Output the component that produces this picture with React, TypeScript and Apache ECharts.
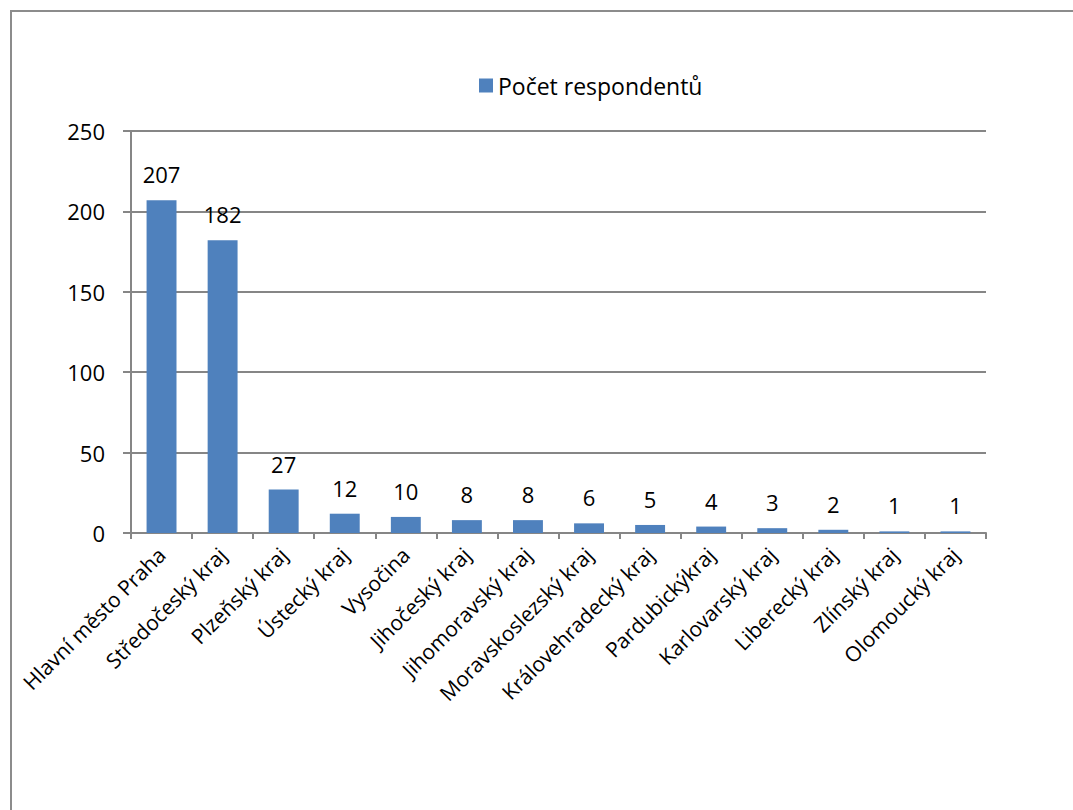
import React, { useEffect, useRef } from "react";
import * as echarts from "echarts";

const categories = [
  "Hlavní město Praha",
  "Středočeský kraj",
  "Plzeňský kraj",
  "Ústecký kraj",
  "Vysočina",
  "Jihočeský kraj",
  "Jihomoravský kraj",
  "Moravskoslezský kraj",
  "Královehradecký kraj",
  "Pardubickýkraj",
  "Karlovarský kraj",
  "Liberecký kraj",
  "Zlínský kraj",
  "Olomoucký kraj",
];
const seriesName = "Počet respondentů";
const values = [207, 182, 27, 12, 10, 8, 8, 6, 5, 4, 3, 2, 1, 1];

const FONT = "'Open Sans', sans-serif";

export default function App() {
  const ref = useRef<HTMLDivElement>(null);
  useEffect(() => {
    if (!ref.current) return;
    const chart = echarts.init(ref.current, undefined, { renderer: "svg" });
    chart.setOption({
      animation: false,
      backgroundColor: "#ffffff",
      textStyle: { fontFamily: FONT },
      graphic: [
        {
          type: "rect",
          shape: { x: 11, y: 11, width: 1100, height: 850 },
          style: { fill: "none", stroke: "#8c8c8c", lineWidth: 2 },
          silent: true,
        },
      ],
      legend: {
        data: [seriesName],
        left: 474,
        top: 69,
        itemWidth: 14,
        itemHeight: 14,
        itemGap: 8,
        icon: "rect",
        textStyle: { fontSize: 23, color: "#000", fontFamily: FONT },
      },
      grid: { left: 131, right: 87, top: 131, bottom: 277, containLabel: false },
      xAxis: {
        type: "category",
        data: categories,
        axisLine: { lineStyle: { color: "#868686", width: 2 } },
        axisTick: { show: true, length: 6, lineStyle: { color: "#868686", width: 2 } },
        axisLabel: {
          rotate: 45,
          interval: 0,
          fontSize: 21,
          color: "#000",
          margin: 18,
          fontFamily: FONT,
        },
      },
      yAxis: {
        type: "value",
        min: 0,
        max: 250,
        interval: 50,
        axisLine: { show: true, lineStyle: { color: "#868686", width: 2 } },
        axisTick: { show: true, length: 8, lineStyle: { color: "#868686", width: 2 } },
        axisLabel: { fontSize: 22, color: "#000", margin: 26, fontFamily: FONT },
        splitLine: { lineStyle: { color: "#868686", width: 2 } },
      },
      series: [
        {
          name: seriesName,
          type: "bar",
          data: values,
          barWidth: "49%",
          itemStyle: { color: "#4F81BD" },
          label: {
            show: true,
            position: "top",
            distance: 15,
            fontSize: 22,
            color: "#000",
            fontFamily: FONT,
          },
        },
      ],
    });
    return () => chart.dispose();
  }, []);
  return (
    <div
      ref={ref}
      style={{ position: "fixed", left: 0, top: 0, width: 1073, height: 810 }}
    />
  );
}
